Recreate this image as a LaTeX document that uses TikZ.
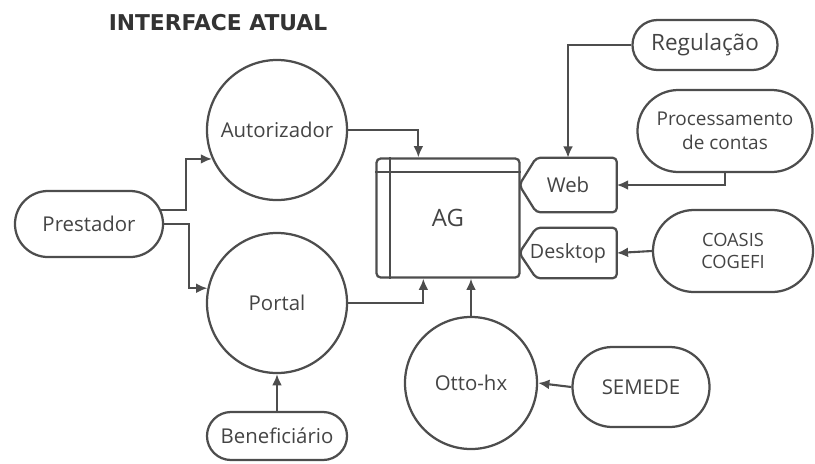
\documentclass[tikz,border=0pt]{standalone}
\usepackage{fontspec}
\setmainfont{Open Sans}
\newfontfamily\titlefont{DejaVu Sans}
\usetikzlibrary{arrows.meta,shapes.misc,calc}
\definecolor{linegray}{HTML}{4d4d4d}
\definecolor{textgray}{HTML}{444444}

\begin{document}
\begin{tikzpicture}[x=0.025cm, y=-0.025cm,
  every node/.style={text=textgray, font=\fontsize{14.5}{17}\selectfont},
  outline/.style={draw=linegray, line width=1.6pt},
  box/.style={outline, inner sep=0pt, align=center},
  bubble/.style={box, circle},
  pill/.style={box, rounded rectangle},
  iface/.style={inner sep=0pt, minimum width=2.425cm},
  conn/.style={draw=linegray, line width=1.5pt, -{Latex[length=8pt,width=7pt]}}]
  \useasboundingbox (0,0) rectangle (815,463);
  \node at (218,23) (title) {\titlefont\fontsize{15.5}{18}\selectfont\bfseries\color{black!80} INTERFACE ATUAL};
  \node[pill, minimum width=3.7cm, minimum height=1.65cm] at (89,224) (prest) {Prestador};
  \node[bubble, minimum size=3.5cm] at (277,130) (aut) {Autorizador};
  \node[bubble, minimum size=3.5cm] at (277,303) (portal) {Portal};
  \node[pill, minimum width=3.5cm, minimum height=1.2cm] at (277,436) (benef) {Beneficiário};
  \node[box, rounded corners=3pt, minimum width=3.575cm, minimum height=2.975cm,
    font=\fontsize{17}{20}\selectfont] at (448,218) (ag) {AG};
  \draw[outline] ($(ag.north west)+(0,15)$) -- ($(ag.north east)+(0,15)$);
  \draw[outline] ($(ag.north west)+(15,0)$) -- ($(ag.south west)+(15,0)$);
  \node[iface, minimum height=1.35cm] at (568,185) (web) {Web};
  \draw[outline, rounded corners=3pt] (web.west) -- ($(web.north west)+(17,0)$)
    -- (web.north east) -- (web.south east) -- ($(web.south west)+(17,0)$) -- cycle;
  \node[iface, minimum height=1.25cm, font=\fontsize{14}{17}\selectfont] at (568,253) (desk) {Desktop};
  \draw[outline, rounded corners=3pt] (desk.west) -- ($(desk.north west)+(17,0)$)
    -- (desk.north east) -- (desk.south east) -- ($(desk.south west)+(17,0)$) -- cycle;
  \node[pill, minimum width=3.625cm, minimum height=1.25cm,
    font=\fontsize{16}{19}\selectfont] at (705,45) (reg) {Regulação};
  \node[pill, minimum width=4.375cm, minimum height=2.05cm,
    font=\fontsize{13.5}{17}\selectfont] at (725,131) (proc) {Processamento\\de contas};
  \node[pill, minimum width=4cm, minimum height=2.05cm,
    font=\fontsize{13}{16}\selectfont] at (733,251) (coasis) {COASIS\\COGEFI};
  \node[bubble, minimum size=3.3cm] at (471,383) (otto) {Otto-hx};
  \node[pill, minimum width=3.425cm, minimum height=2cm] at (641,387) (semede) {SEMEDE};
  \draw[conn] (prest.11) -- ++(25,0) |- (aut.204);
  \draw[conn] (prest.east) -- ++(25,0) |- (portal.168);
  \draw[conn] (aut.east) -| ($(ag.north west)+(43,0)$);
  \draw[conn] (portal.east) -| ($(ag.south west)+(48,0)$);
  \draw[conn] (otto.north) -- (otto.north |- ag.south);
  \draw[conn] (benef.north) -- (portal.south);
  \draw[conn] (reg.west) -| (web.north);
  \draw[conn] (proc.south) |- (web.east);
  \draw[conn] (coasis.west) -- (desk.east);
  \draw[conn] (semede.west) -- (otto.east);
\end{tikzpicture}
\end{document}
